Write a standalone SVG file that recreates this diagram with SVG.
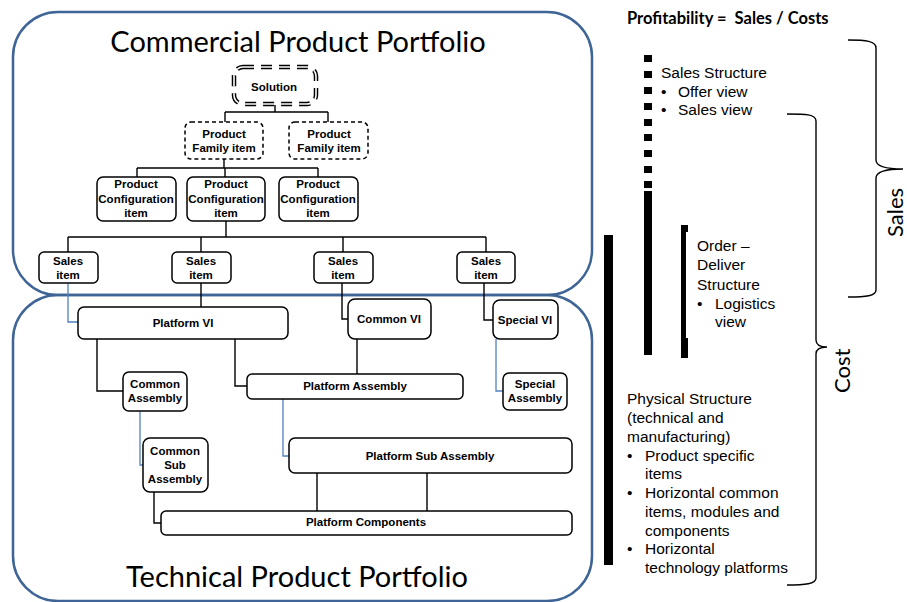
<svg xmlns="http://www.w3.org/2000/svg" width="907" height="602" viewBox="0 0 907 602">
<style>
.frame{fill:none;stroke:#3f6597;stroke-width:2.5}
.box{fill:#fff;stroke:#000;stroke-width:1.5}
.dash{fill:#fff;stroke:#000;stroke-width:1.5;stroke-dasharray:4 3}
.nt{font-family:"Liberation Sans",Arial,sans-serif;font-weight:bold;font-size:11.5px;fill:#000;text-anchor:middle}
.title{font-family:Lato,"Open Sans",sans-serif;font-size:29px;fill:#000;text-anchor:middle}
.rt{font-family:"Liberation Sans",Arial,sans-serif;font-size:15.5px;fill:#000}
.big{font-family:Lato,"Open Sans",sans-serif;font-size:22px;fill:#000}
.k{fill:none;stroke:#000;stroke-width:1.4}
.b{fill:none;stroke:#4f81bd;stroke-width:1.3}
.brace{fill:none;stroke:#000;stroke-width:1.4}
.bar{fill:#000}
</style>
<rect width="907" height="602" fill="#fff"/>

<g id="frames">
<rect class="frame" x="13" y="12" width="579" height="283" rx="45" ry="45"/>
<rect class="frame" x="13" y="295" width="579" height="306" rx="45" ry="45"/>
</g>
<text class="title" x="298" y="52">Commercial Product Portfolio</text>
<text class="title" x="297" y="587">Technical Product Portfolio</text>

<g id="connectors">
<path class="k" d="M275 105V112M225 112H328M225 112V122M328 112V122"/>
<path class="k" d="M224 159V168M137 168H318M137 168V177M225 168V177M318 168V177"/>
<path class="k" d="M226 221V237M68 237H486M68 237V252M201 237V252M343 237V252M486 237V252"/>
<path class="b" d="M68 283V322H78"/>
<path class="k" d="M201 283V307"/>
<path class="k" d="M342 283V319H348"/>
<path class="k" d="M484 283V320H493"/>
<path class="k" d="M97 339V391H123"/>
<path class="k" d="M235 339V386H247"/>
<path class="k" d="M357 339V374"/>
<path class="b" d="M496 339V391H503"/>
<path class="b" d="M140 411V465H143"/>
<path class="b" d="M283 399V456H289"/>
<path class="k" d="M154 492V523H161"/>
<path class="k" d="M317 473V511M427 473V511"/>
</g>

<g id="solution">
<rect x="234" y="67" width="82" height="37" rx="9" fill="#fff" stroke="#000" stroke-width="4.5" stroke-dasharray="11 7"/>
<rect x="234" y="67" width="82" height="37" rx="9" fill="none" stroke="#fff" stroke-width="1.6" stroke-dasharray="11 7"/>
<text class="nt" x="274" y="91">Solution</text>
</g>
<g id="pf1"><rect class="dash" x="185" y="122" width="78" height="37" rx="6"/><text class="nt" x="224" y="138">Product</text><text class="nt" x="224" y="152">Family item</text></g>
<g id="pf2"><rect class="dash" x="289" y="122" width="79" height="37" rx="6"/><text class="nt" x="329" y="138">Product</text><text class="nt" x="329" y="152">Family item</text></g>

<g id="pc1"><rect class="box" x="97" y="177" width="79" height="44" rx="6"/><text class="nt" x="136" y="188">Product</text><text class="nt" x="136" y="203">Configuration</text><text class="nt" x="136" y="217">item</text></g>
<g id="pc2"><rect class="box" x="187" y="177" width="78" height="44" rx="6"/><text class="nt" x="226" y="188">Product</text><text class="nt" x="226" y="203">Configuration</text><text class="nt" x="226" y="217">item</text></g>
<g id="pc3"><rect class="box" x="279" y="177" width="79" height="44" rx="6"/><text class="nt" x="318" y="188">Product</text><text class="nt" x="318" y="203">Configuration</text><text class="nt" x="318" y="217">item</text></g>

<g id="si1"><rect class="box" x="39" y="252" width="59" height="31" rx="5"/><text class="nt" x="68" y="265">Sales</text><text class="nt" x="68" y="279">item</text></g>
<g id="si2"><rect class="box" x="172" y="252" width="59" height="31" rx="5"/><text class="nt" x="201" y="265">Sales</text><text class="nt" x="201" y="279">item</text></g>
<g id="si3"><rect class="box" x="314" y="252" width="59" height="31" rx="5"/><text class="nt" x="343" y="265">Sales</text><text class="nt" x="343" y="279">item</text></g>
<g id="si4"><rect class="box" x="457" y="252" width="58" height="31" rx="5"/><text class="nt" x="486" y="265">Sales</text><text class="nt" x="486" y="279">item</text></g>

<g id="pvi"><rect class="box" x="78" y="307" width="210" height="32" rx="6"/><text class="nt" x="183" y="327">Platform VI</text></g>
<g id="cvi"><rect class="box" x="348" y="299" width="83" height="40" rx="7"/><text class="nt" x="389" y="323">Common VI</text></g>
<g id="svi"><rect class="box" x="493" y="300" width="65" height="39" rx="7"/><text class="nt" x="525" y="324">Special VI</text></g>
<g id="ca"><rect class="box" x="123" y="372" width="64" height="39" rx="6"/><text class="nt" x="155" y="388">Common</text><text class="nt" x="155" y="402">Assembly</text></g>
<g id="pa"><rect class="box" x="247" y="374" width="216" height="25" rx="5"/><text class="nt" x="355" y="390">Platform Assembly</text></g>
<g id="sa"><rect class="box" x="503" y="373" width="64" height="37" rx="6"/><text class="nt" x="535" y="388">Special</text><text class="nt" x="535" y="402">Assembly</text></g>
<g id="csa"><rect class="box" x="143" y="438" width="65" height="54" rx="7"/><text class="nt" x="175" y="455">Common</text><text class="nt" x="175" y="469">Sub</text><text class="nt" x="175" y="483">Assembly</text></g>
<g id="psa"><rect class="box" x="289" y="438" width="283" height="35" rx="6"/><text class="nt" x="430" y="460">Platform Sub Assembly</text></g>
<g id="pcomp"><rect class="box" x="161" y="511" width="411" height="24" rx="5"/><text class="nt" x="366" y="526">Platform Components</text></g>

<g id="right">
<text x="627" y="24" xml:space="preserve" font-family="Lato,'Open Sans',sans-serif" font-weight="bold" font-size="16.5" fill="#000">Profitability =  Sales / Costs</text>
<g class="bar">
<rect x="644" y="55" width="8" height="7"/><rect x="644" y="71" width="8" height="7"/><rect x="644" y="87" width="8" height="7"/>
<rect x="644" y="103" width="8" height="7"/><rect x="644" y="119" width="8" height="7"/><rect x="644" y="134" width="8" height="7"/>
<rect x="644" y="150" width="8" height="7"/><rect x="644" y="166" width="8" height="7"/><rect x="644" y="181" width="8" height="7"/>
<rect x="644" y="191" width="8" height="164"/>
<rect x="604" y="235" width="9" height="330"/>
<path d="M681 225H688V232H686V338H688V358H681Z"/>
</g>
<text class="rt" x="661" y="78">Sales Structure</text>
<text class="rt" x="661" y="97">•</text><text class="rt" x="678" y="97">Offer view</text>
<text class="rt" x="661" y="115">•</text><text class="rt" x="678" y="115">Sales view</text>
<text class="rt" x="697" y="251">Order –</text>
<text class="rt" x="697" y="270">Deliver</text>
<text class="rt" x="697" y="290">Structure</text>
<text class="rt" x="697" y="309">•</text><text class="rt" x="715" y="309">Logistics</text>
<text class="rt" x="715" y="327">view</text>
<text class="rt" x="627" y="404">Physical Structure</text>
<text class="rt" x="627" y="423">(technical and</text>
<text class="rt" x="627" y="442">manufacturing)</text>
<text class="rt" x="627" y="461">•</text><text class="rt" x="645" y="461">Product specific</text>
<text class="rt" x="645" y="479">items</text>
<text class="rt" x="627" y="498">•</text><text class="rt" x="645" y="498">Horizontal common</text>
<text class="rt" x="645" y="517">items, modules and</text>
<text class="rt" x="645" y="536">components</text>
<text class="rt" x="627" y="554">•</text><text class="rt" x="645" y="554">Horizontal</text>
<text class="rt" x="645" y="573">technology platforms</text>
<path class="brace" d="M848 40C866 40 876 41 876 48V160C876 166 884 169 903 169C884 169 876 172 876 178V290C876 296 866 297 848 297"/>
<path class="brace" d="M787 114C805 114 816 114 816 121V340C816 345 820 347 827 347C820 347 816 349 816 354V578C816 584 805 585 787 585"/>
<text class="big" transform="translate(903 237) rotate(-90)">Sales</text>
<text class="big" transform="translate(850 393) rotate(-90)">Cost</text>
</g>
</svg>
